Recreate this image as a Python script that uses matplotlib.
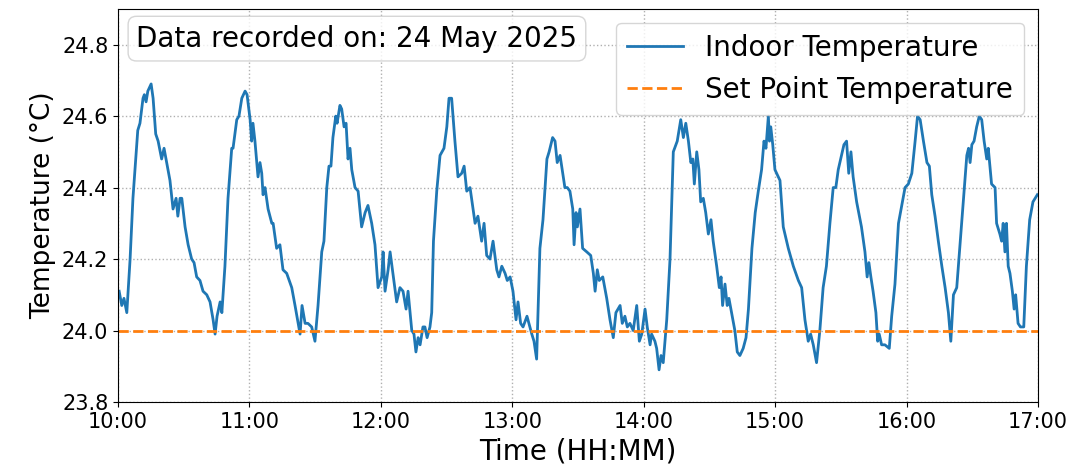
import numpy as np
import pandas as pd
import matplotlib
matplotlib.use('Agg')
import matplotlib.pyplot as plt
import matplotlib.dates as mdates

# minutes after 10:00 and indoor temperature readings (°C)
minutes = [0.5, 1.7, 2.7, 4.0, 5.5, 6.8, 9.0, 10.0, 11.4, 12.0, 12.8, 13.6, 15.1, 16.0, 17.2, 18.3, 19.9,
           21.0, 22.2, 23.7, 25.1, 26.5, 27.3, 28.3, 29.1, 30.6, 32.0, 33.6, 34.7, 35.9, 37.4, 38.8,
           40.5, 42.0, 43.4, 44.3, 45.2, 46.6, 47.4, 48.8, 50.2, 51.9, 52.5, 54.2, 55.2, 56.5, 58.0,
           58.9, 60.3, 61.0, 61.6, 62.5, 63.9, 64.8, 65.6, 66.2, 67.1, 68.5, 70.2, 70.8, 72.4, 73.9,
           75.3, 77.0, 79.3, 80.8, 83.1, 84.0, 85.4, 86.7, 88.4, 89.9, 91.3, 93.0, 94.0, 95.3, 96.3,
           97.2, 98.1, 99.4, 100.0, 101.3, 102.1, 103.2, 104.1, 105.0, 105.9, 106.7, 108.2, 109.6,
           111.2, 112.8, 114.1, 115.8, 117.3, 118.7, 120.4, 121.0, 121.9, 123.3, 124.2, 125.5, 127.2,
           128.7, 130.1, 131.5, 132.4, 134.1, 135.1, 136.0, 137.0, 137.9, 139.2, 140.1, 141.1, 142.4,
           143.2, 144.0, 145.5, 147.0, 148.8, 150.1, 151.1, 152.3, 153.8, 155.2, 156.9, 158.0, 159.2,
           160.7, 163.0, 164.3, 166.0, 167.1, 168.3, 169.8, 171.2, 172.9, 173.9, 175.2, 176.7, 177.7,
           179.0, 180.3, 181.7, 182.6, 183.8, 184.9, 186.7, 188.9, 189.9, 191.1, 192.6, 194.0, 195.8,
           196.8, 198.4, 199.5, 200.5, 201.8, 203.0, 204.0, 205.1, 206.3, 207.6, 208.2, 209.1, 209.7,
           210.9, 212.1, 214.0, 215.8, 217.0, 217.8, 218.8, 219.7, 221.3, 223.1, 224.6, 226.1, 227.3,
           229.2, 230.2, 231.4, 232.5, 233.7, 235.2, 236.8, 238.0, 239.1, 240.6, 241.6, 242.9, 243.6,
           245.1, 245.9, 247.0, 247.9, 248.9, 250.5, 252.0, 253.5, 255.3, 256.9, 258.1, 259.2, 260.4,
           261.5, 262.4, 263.1, 264.2, 265.2, 266.0, 267.2, 268.3, 269.5, 270.7, 271.7, 273.3, 274.5,
           275.3, 276.0, 277.1, 278.1, 278.9, 280.1, 281.6, 282.7, 283.9, 285.4, 286.7, 287.8, 289.4,
           290.9, 292.3, 293.8, 294.9, 295.8, 296.9, 297.4, 298.0, 298.9, 299.9, 302.2, 303.7, 306.0,
           308.3, 310.6, 312.1, 313.6, 315.1, 316.2, 317.4, 318.9, 320.4, 321.9, 323.4, 325.0, 326.5,
           327.7, 328.8, 330.3, 331.4, 332.6, 333.6, 334.6, 335.6, 337.2, 339.4, 341.0, 342.0, 342.8,
           343.7, 344.7, 346.0, 346.8, 347.5, 348.6, 350.1, 352.1, 353.2, 354.7, 356.3, 357.8, 359.3,
           360.8, 362.4, 363.9, 365.0, 366.2, 367.7, 369.3, 370.4, 371.5, 373.0, 374.5, 376.1, 377.6,
           379.1, 380.2, 381.4, 382.9, 384.4, 386.0, 387.5, 388.3, 389.0, 389.8, 390.8, 392.0, 393.2,
           394.3, 395.4, 396.6, 397.3, 398.8, 400.4, 401.1, 402.6, 403.4, 404.1, 404.9, 405.6, 406.4,
           407.2, 408.3, 409.1, 409.8, 410.9, 412.0, 413.5, 414.7, 416.2, 417.7, 419.7]

indoor_temp = [24.11, 24.07, 24.09, 24.05, 24.20, 24.37, 24.56, 24.58, 24.65, 24.66, 24.64, 24.67, 24.69,
               24.65, 24.55, 24.53, 24.48, 24.51, 24.47, 24.42, 24.34, 24.37, 24.32, 24.37, 24.37, 24.29,
               24.24, 24.20, 24.19, 24.15, 24.14, 24.11, 24.10, 24.08, 24.03, 23.99, 24.04, 24.08, 24.05,
               24.18, 24.37, 24.51, 24.51, 24.59, 24.60, 24.65, 24.67, 24.66, 24.59, 24.53, 24.58, 24.53,
               24.43, 24.47, 24.44, 24.38, 24.40, 24.34, 24.30, 24.30, 24.23, 24.24, 24.17, 24.16, 24.12,
               24.07, 23.99, 24.07, 24.02, 24.02, 24.01, 23.97, 24.07, 24.22, 24.25, 24.40, 24.46, 24.46,
               24.54, 24.60, 24.58, 24.63, 24.62, 24.57, 24.58, 24.48, 24.51, 24.45, 24.40, 24.39, 24.29,
               24.33, 24.35, 24.30, 24.24, 24.12, 24.15, 24.22, 24.11, 24.17, 24.22, 24.16, 24.08, 24.12,
               24.11, 24.06, 24.11, 24.00, 23.99, 23.94, 23.98, 23.96, 24.01, 24.01, 23.98, 24.01, 24.05,
               24.25, 24.39, 24.49, 24.51, 24.57, 24.65, 24.65, 24.53, 24.43, 24.44, 24.46, 24.39, 24.40,
               24.30, 24.32, 24.25, 24.30, 24.21, 24.20, 24.25, 24.17, 24.15, 24.18, 24.16, 24.14, 24.15,
               24.11, 24.03, 24.08, 24.02, 24.01, 24.04, 23.99, 23.97, 23.92, 24.23, 24.31, 24.48, 24.50,
               24.54, 24.53, 24.47, 24.49, 24.44, 24.40, 24.40, 24.39, 24.34, 24.24, 24.33, 24.29, 24.34,
               24.23, 24.22, 24.21, 24.16, 24.11, 24.17, 24.14, 24.15, 24.09, 24.03, 23.98, 24.05, 24.07,
               24.02, 24.04, 24.01, 24.02, 24.00, 24.07, 23.97, 23.99, 24.06, 24.01, 23.96, 23.99, 23.97,
               23.95, 23.89, 23.93, 23.91, 24.03, 24.20, 24.50, 24.53, 24.59, 24.54, 24.58, 24.53, 24.47,
               24.48, 24.41, 24.50, 24.45, 24.36, 24.37, 24.33, 24.27, 24.31, 24.25, 24.18, 24.12, 24.15,
               24.07, 24.13, 24.07, 24.09, 24.05, 24.00, 23.94, 23.93, 23.95, 23.98, 24.06, 24.23, 24.33,
               24.39, 24.45, 24.53, 24.51, 24.60, 24.53, 24.57, 24.52, 24.45, 24.42, 24.29, 24.23, 24.18,
               24.14, 24.12, 24.03, 23.97, 23.99, 23.96, 23.91, 24.00, 24.12, 24.18, 24.30, 24.40, 24.40,
               24.45, 24.49, 24.52, 24.53, 24.44, 24.50, 24.43, 24.36, 24.29, 24.22, 24.15, 24.19, 24.15,
               24.11, 24.05, 23.97, 23.99, 23.96, 23.96, 23.95, 24.04, 24.13, 24.30, 24.35, 24.40, 24.41,
               24.44, 24.53, 24.60, 24.59, 24.53, 24.47, 24.46, 24.38, 24.32, 24.25, 24.18, 24.12, 24.05,
               23.97, 24.10, 24.12, 24.24, 24.37, 24.49, 24.51, 24.47, 24.52, 24.53, 24.57, 24.60, 24.59,
               24.53, 24.48, 24.51, 24.41, 24.40, 24.30, 24.27, 24.25, 24.30, 24.22, 24.30, 24.18, 24.16,
               24.11, 24.06, 24.10, 24.02, 24.01, 24.01, 24.18, 24.31, 24.36, 24.38]

set_point = 24.0
record_date = '2025-05-24'

times = pd.Timestamp(record_date + ' 10:00') + pd.to_timedelta(minutes, unit='min')

fig, ax = plt.subplots(figsize=(10.86, 4.69), dpi=100)
ax.plot(times, indoor_temp, color='#1f77b4', lw=2, label='Indoor Temperature')
ax.axhline(set_point, color='#ff7f0e', ls='--', lw=2, label='Set Point Temperature')

ax.set_xlim(pd.Timestamp(record_date + ' 10:00'), pd.Timestamp(record_date + ' 17:00'))
ax.set_ylim(23.8, 24.9)
ax.xaxis.set_major_locator(mdates.HourLocator())
ax.xaxis.set_major_formatter(mdates.DateFormatter('%H:%M'))
ax.tick_params(labelsize=15)
ax.grid(True, ls=':', color='#b0b0b0', lw=1)

ax.set_xlabel('Time (HH:MM)', fontsize=20, labelpad=4)
ax.set_ylabel('Temperature (°C)', fontsize=19)
ax.legend(loc='upper right', fontsize=20)
ax.text(0.02, 0.96, 'Data recorded on: 24 May 2025', transform=ax.transAxes,
        fontsize=20, va='top', ha='left',
        bbox=dict(boxstyle='round', facecolor='white', edgecolor='#cccccc', alpha=0.8))

plt.subplots_adjust(left=0.1087, right=0.9558, top=0.981, bottom=0.1429)
plt.savefig('out.png', dpi=100)
